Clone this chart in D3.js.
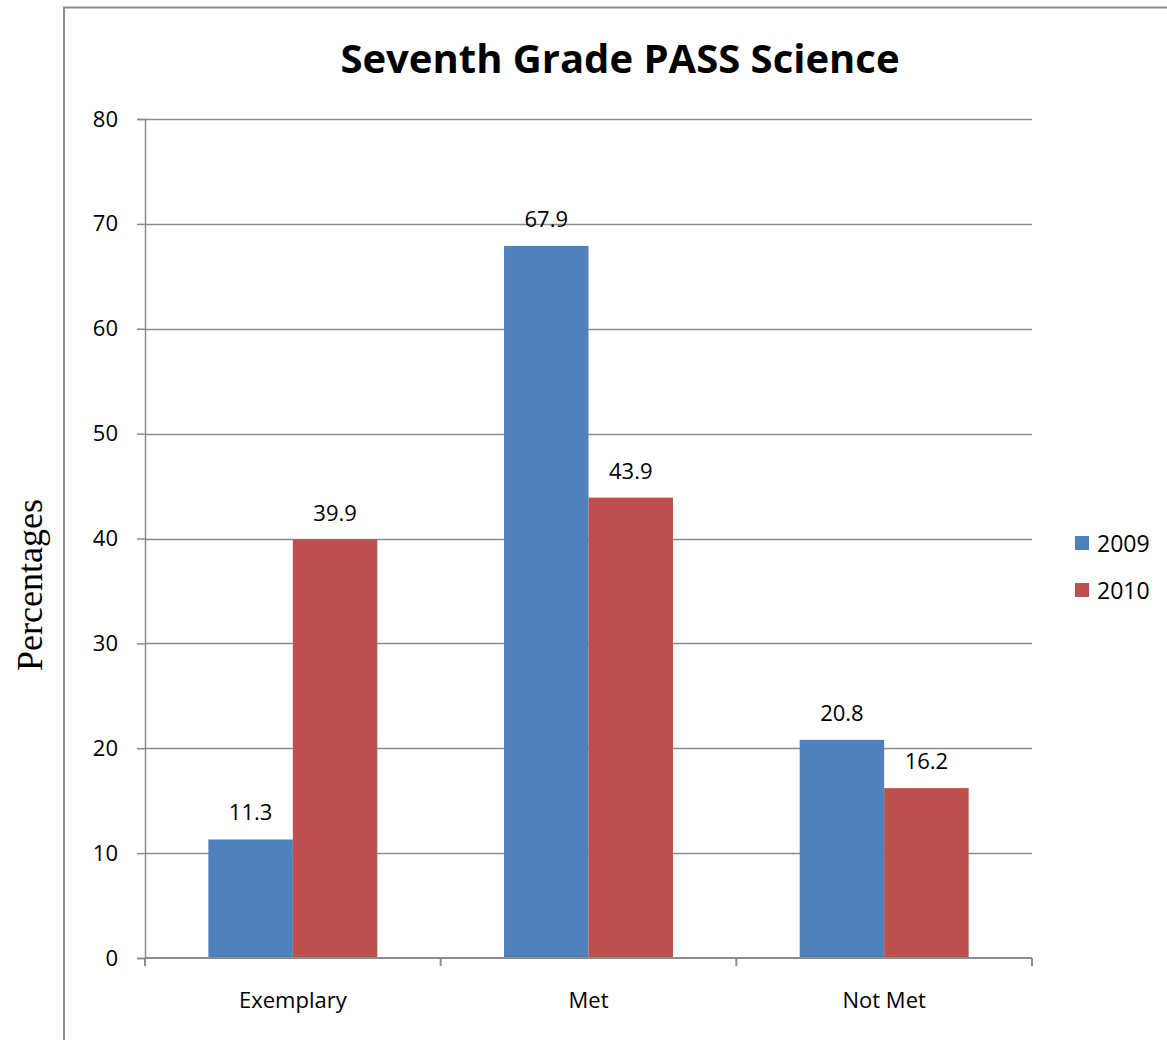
<!DOCTYPE html>
<html>
<head>
<meta charset="utf-8">
<script src="https://cdn.jsdelivr.net/npm/d3@7"></script>
<style>
  body { margin: 0; background: #fff; }
  svg { display: block; }
</style>
</head>
<body>
<div id="chart"></div>
<script>
var categories = ["Exemplary", "Met", "Not Met"];
var seriesNames = ["2009", "2010"];
var values2009 = [11.3, 67.9, 20.8];
var values2010 = [39.9, 43.9, 16.2];
var yTicks = [0, 10, 20, 30, 40, 50, 60, 70, 80];
var colors = ["#4f81bd", "#c0504d"];

function init(){
    var w = 1167;
    var h = 1040;
    var left = 145, right = 1032, top = 119, bottom = 958;
    var font = "'Open Sans', 'Noto Sans', sans-serif";

    var svg = d3.select("#chart")
                .append("svg")
                .attr("width", w)
                .attr("height", h);

    // outer frame (only top and left visible)
    svg.append("path")
        .attr("d", "M64,1040 V7.5 H1167")
        .attr("fill", "none")
        .attr("stroke", "#8c8c8c")
        .attr("stroke-width", 2);

    var xScale = d3.scaleBand()
                    .domain(categories)
                    .range([left, right]);

    var inner = d3.scaleBand()
                    .domain(seriesNames)
                    .range([0, xScale.bandwidth()])
                    .paddingInner(0)
                    .paddingOuter(0.75);

    var yScale = d3.scaleLinear()
                    .domain([0, 80])
                    .range([bottom, top]);

    // gridlines
    svg.append("g")
        .selectAll("line")
        .data(yTicks.slice(1))
        .enter()
        .append("line")
        .attr("x1", left)
        .attr("x2", right)
        .attr("y1", function(d){ return Math.round(yScale(d)) + 0.5; })
        .attr("y2", function(d){ return Math.round(yScale(d)) + 0.5; })
        .attr("stroke", "#8c8c8c")
        .attr("stroke-width", 1.5);

    // bars
    var data = [];
    categories.forEach(function(c, i){
        data.push({cat: c, series: "2009", v: values2009[i], color: colors[0]});
        data.push({cat: c, series: "2010", v: values2010[i], color: colors[1]});
    });

    svg.append("g")
        .selectAll("rect")
        .data(data)
        .enter()
        .append("rect")
        .attr("x", function(d){ return xScale(d.cat) + inner(d.series); })
        .attr("y", function(d){ return yScale(d.v); })
        .attr("width", inner.bandwidth())
        .attr("height", function(d){ return bottom - yScale(d.v); })
        .attr("fill", function(d){ return d.color; });

    // value labels
    svg.append("g")
        .selectAll("text")
        .data(data)
        .enter()
        .append("text")
        .attr("x", function(d){ return xScale(d.cat) + inner(d.series) + inner.bandwidth() / 2; })
        .attr("y", function(d){ return yScale(d.v) - 19; })
        .attr("text-anchor", "middle")
        .attr("font-family", font)
        .attr("font-size", "22px")
        .attr("fill", "#000")
        .text(function(d){ return d.v.toFixed(1); });

    // y axis
    var yAxis = d3.axisLeft(yScale)
                    .tickValues(yTicks)
                    .tickSize(8)
                    .tickPadding(19);
    var gy = svg.append("g")
        .attr("transform", "translate(" + left + ",0)")
        .call(yAxis);
    gy.selectAll("path, line").attr("stroke", "#8c8c8c").attr("stroke-width", 1.5);
    gy.selectAll("text")
        .attr("font-family", font)
        .attr("font-size", "22px")
        .attr("fill", "#000");

    // x axis
    var gx = svg.append("g")
        .attr("transform", "translate(0," + bottom + ")");
    gx.append("line")
        .attr("x1", left).attr("x2", right)
        .attr("stroke", "#8c8c8c").attr("stroke-width", 2);
    var bounds = categories.map(function(c){ return xScale(c); }).concat([right]);
    gx.selectAll(".tick")
        .data(bounds)
        .enter()
        .append("line")
        .attr("x1", function(d){ return d; })
        .attr("x2", function(d){ return d; })
        .attr("y1", 0).attr("y2", 8)
        .attr("stroke", "#8c8c8c").attr("stroke-width", 2);
    gx.selectAll("text")
        .data(categories)
        .enter()
        .append("text")
        .attr("x", function(d){ return xScale(d) + xScale.bandwidth() / 2; })
        .attr("y", 50)
        .attr("text-anchor", "middle")
        .attr("font-family", font)
        .attr("font-size", "22px")
        .text(function(d){ return d; });

    // title
    svg.append("text")
        .attr("x", 620)
        .attr("y", 73)
        .attr("text-anchor", "middle")
        .attr("font-family", font)
        .attr("font-weight", "bold")
        .attr("font-size", "40px")
        .text("Seventh Grade PASS Science");

    // y label
    svg.append("text")
        .attr("transform", "translate(42,585) rotate(-90)")
        .attr("text-anchor", "middle")
        .attr("font-family", "'Liberation Serif', 'Times New Roman', serif")
        .attr("font-size", "36px")
        .text("Percentages");

    // legend
    var legend = svg.append("g")
        .selectAll("g")
        .data(seriesNames)
        .enter()
        .append("g")
        .attr("transform", function(d, i){ return "translate(1075," + (536 + i * 47) + ")"; });
    legend.append("rect")
        .attr("width", 14)
        .attr("height", 14)
        .attr("fill", function(d, i){ return colors[i]; });
    legend.append("text")
        .attr("x", 22)
        .attr("y", 16)
        .attr("font-family", font)
        .attr("font-size", "23px")
        .text(function(d){ return d; });
}

window.onload = init;
</script>
</body>
</html>
